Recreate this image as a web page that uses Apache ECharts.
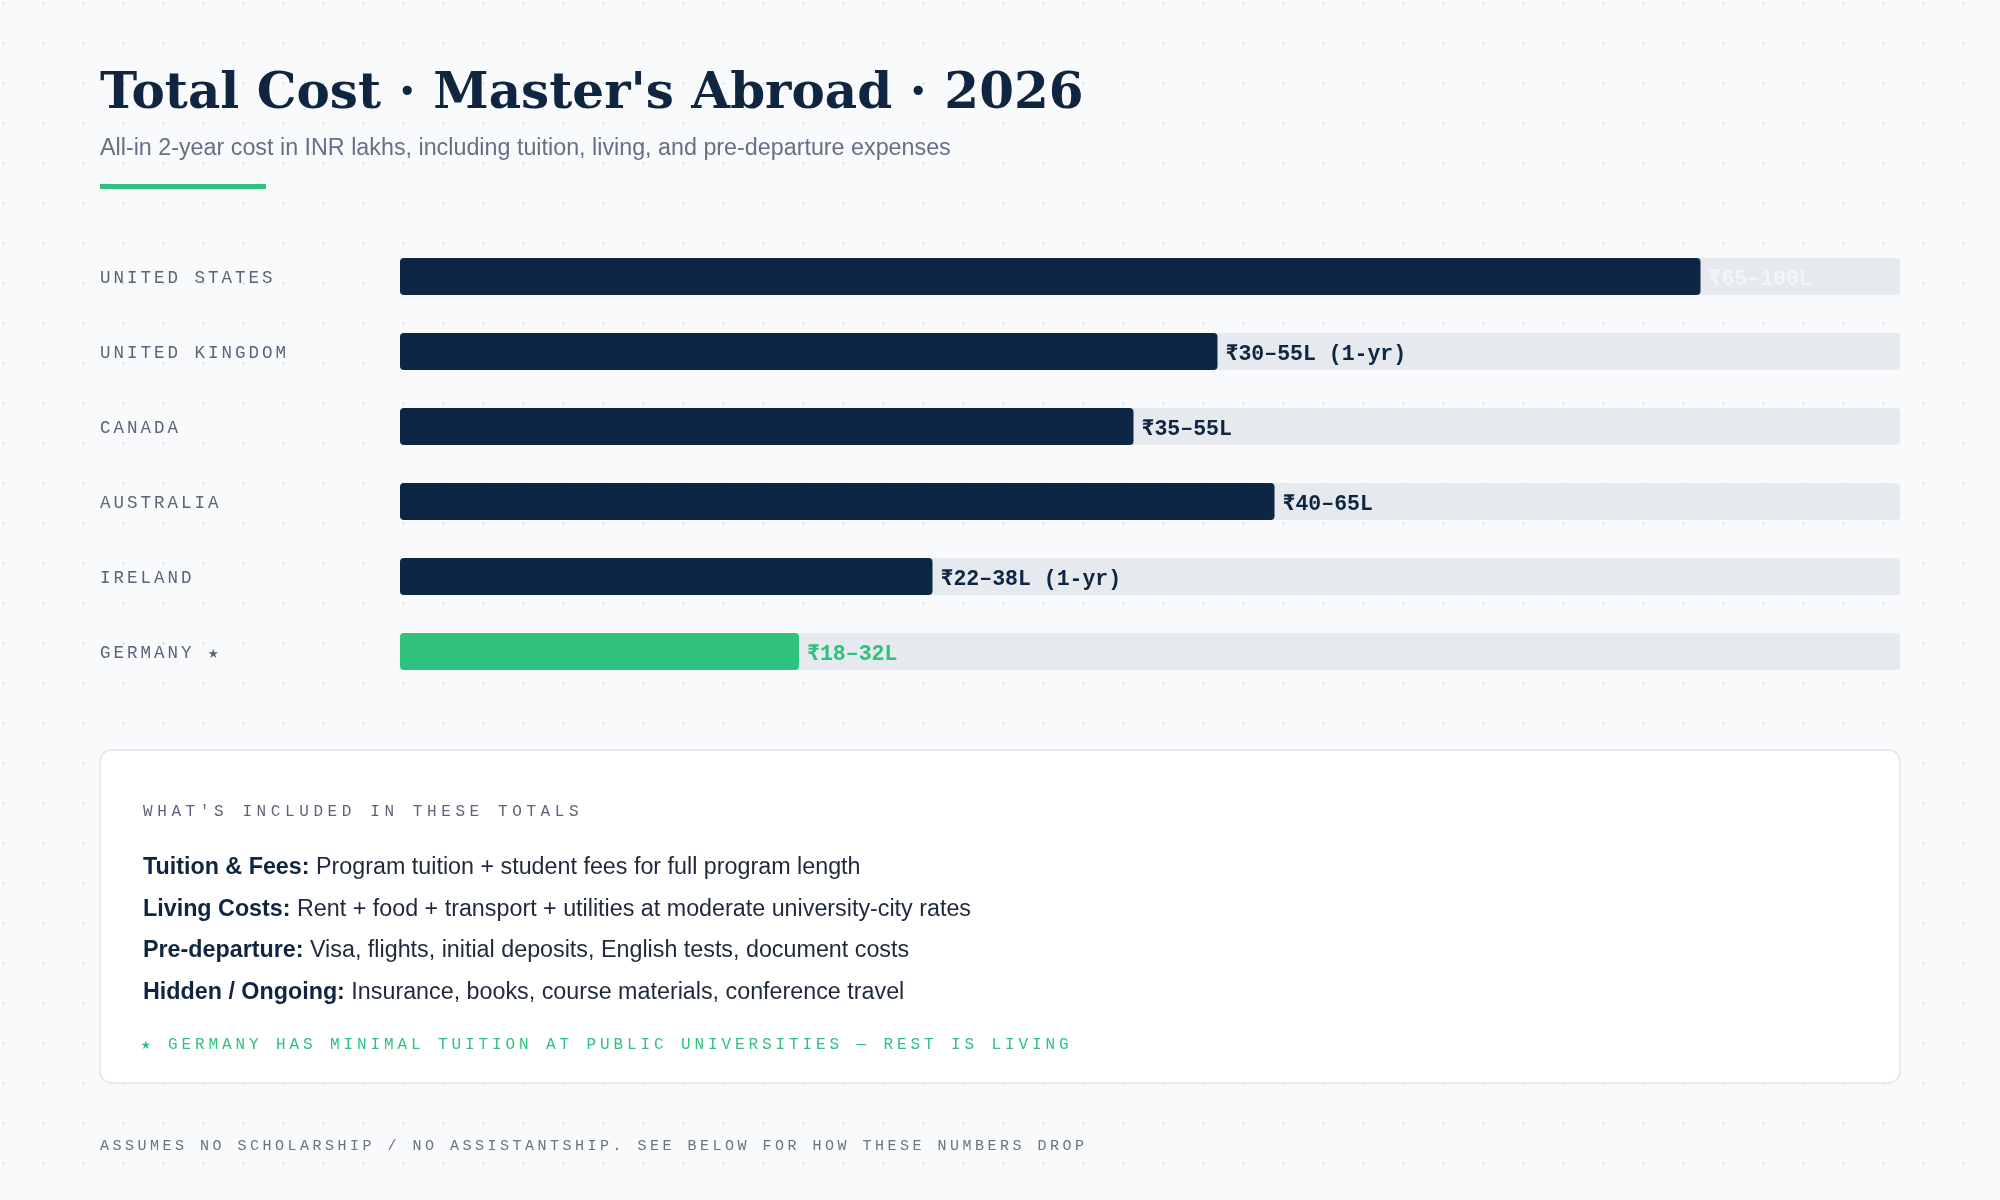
<!DOCTYPE html>
<html>
<head>
<meta charset="utf-8">
<title>Total Cost · Master's Abroad · 2026</title>
<script src="https://cdn.jsdelivr.net/npm/echarts@6/dist/echarts.min.js"></script>
<style>
  html, body { margin: 0; padding: 0; background: #f8fafc; }
  #chart { width: 2000px; height: 1200px; }
</style>
</head>
<body>
<div id="chart"></div>
<script>
// 数据
const countries = ['UNITED STATES', 'UNITED KINGDOM', 'CANADA', 'AUSTRALIA', 'IRELAND', 'GERMANY ★']
const barValues = [86.7, 54.5, 48.9, 58.3, 35.5, 26.6]   // bar length, % of track
const rangeLabels = ['₹65–100L', '₹30–55L (1-yr)', '₹35–55L', '₹40–65L', '₹22–38L (1-yr)', '₹18–32L']
const highlightIndex = 5

const includedTitle = "WHAT'S INCLUDED IN THESE TOTALS"
const includedKeys = ['Tuition & Fees:', 'Living Costs:', 'Pre-departure:', 'Hidden / Ongoing:']
const includedTexts = [
  'Program tuition + student fees for full program length',
  'Rent + food + transport + utilities at moderate university-city rates',
  'Visa, flights, initial deposits, English tests, document costs',
  'Insurance, books, course materials, conference travel'
]
const germanyNote = '★ GERMANY HAS MINIMAL TUITION AT PUBLIC UNIVERSITIES — REST IS LIVING'
const footNote = 'ASSUMES NO SCHOLARSHIP / NO ASSISTANTSHIP. SEE BELOW FOR HOW THESE NUMBERS DROP'

const NAVY = '#0c2643'
const GREEN = '#2fc27e'
const SLATE = '#5b6478'
const MONO = '"Liberation Mono", "DejaVu Sans Mono", monospace'
const SANS = '"Liberation Sans", Arial, sans-serif'

// letter-spaced text: one rich token per character with a fixed advance
const spaced = (text, key) => text.split('').map(c => '{' + key + '|' + c + '}').join('')
const monoStyle = (size, advance, color) => ({
  fontFamily: MONO, fontSize: size, color: color, fill: color, width: advance, align: 'left'
})

// dotted background
const dotCanvas = document.createElement('canvas')
dotCanvas.width = 40
dotCanvas.height = 40
const g = dotCanvas.getContext('2d')
g.fillStyle = '#dde1e7'
g.fillRect(3, 2, 1, 3)
g.fillRect(2, 3, 3, 1)

const chart = echarts.init(document.getElementById('chart'))

const itemLines = includedKeys.map((k, i) => ({
  type: 'text',
  left: 143,
  top: 867 - 11 + i * 41.7,
  style: {
    text: '{b|' + k + '}{r| ' + includedTexts[i] + '}',
    rich: {
      b: { fontFamily: SANS, fontSize: 23.3, fontWeight: 'bold', fill: '#0f2540' },
      r: { fontFamily: SANS, fontSize: 23.3, fill: '#1e293b' }
    }
  }
}))

chart.setOption({
  backgroundColor: '#f8fafc',
  animation: false,
  grid: { left: 400, right: 100, top: 239, height: 450 },
  xAxis: {
    type: 'value', min: 0, max: 100,
    show: false
  },
  yAxis: {
    type: 'category',
    data: countries,
    inverse: true,
    axisLine: { show: false },
    axisTick: { show: false },
    axisLabel: {
      align: 'left',
      margin: 300,
      padding: [3, 0, 0, 0],
      formatter: v => spaced(v, 'l'),
      rich: { l: monoStyle(17.5, 13.5, SLATE) }
    }
  },
  series: [{
    type: 'bar',
    barWidth: 37,
    showBackground: true,
    backgroundStyle: { color: '#e6e9ee', borderRadius: 4 },
    itemStyle: { borderRadius: 4, color: NAVY },
    label: {
      show: true,
      position: 'right',
      distance: 8,
      offset: [0, 3],
      fontFamily: MONO,
      fontSize: 21.5,
      fontWeight: 'bold',
      color: NAVY,
      formatter: p => rangeLabels[p.dataIndex]
    },
    data: barValues.map((v, i) => {
      if (i === highlightIndex) {
        return { value: v, itemStyle: { color: GREEN }, label: { color: GREEN } }
      }
      if (i === 0) return { value: v, label: { color: '#f3f5f8' } }
      return v
    })
  }],
  graphic: [
    {
      type: 'rect', z: -10, silent: true,
      shape: { x: 0, y: 0, width: 2000, height: 1200 },
      style: { fill: { image: dotCanvas, repeat: 'repeat' } }
    },
    {
      type: 'text', left: 100, top: 70,
      style: {
        text: "Total Cost · Master's Abroad · 2026",
        fontFamily: '"DejaVu Serif", serif', fontSize: 50, fontWeight: 'bold', fill: '#0f2540'
      }
    },
    {
      type: 'text', left: 100, top: 137,
      style: {
        text: 'All-in 2-year cost in INR lakhs, including tuition, living, and pre-departure expenses',
        fontFamily: SANS, fontSize: 23.3, fill: '#667085'
      }
    },
    {
      type: 'rect', shape: { x: 100, y: 184, width: 166, height: 5 },
      style: { fill: GREEN }
    },
    {
      type: 'rect',
      shape: { x: 100, y: 750, width: 1800, height: 333, r: 12 },
      style: { fill: '#ffffff', stroke: '#e2e6eb', lineWidth: 1.5 }
    },
    {
      type: 'text', left: 143, top: 804,
      style: { text: spaced(includedTitle, 'h'), rich: { h: monoStyle(16, 14.2, SLATE) } }
    },
    ...itemLines,
    {
      type: 'text', left: 141, top: 1037,
      style: { text: spaced(germanyNote, 'n'), rich: { n: monoStyle(16, 13.5, GREEN) } }
    },
    {
      type: 'text', left: 100, top: 1139,
      style: { text: spaced(footNote, 'f'), rich: { f: monoStyle(15, 12.5, '#6b7280') } }
    }
  ]
})
</script>
</body>
</html>
